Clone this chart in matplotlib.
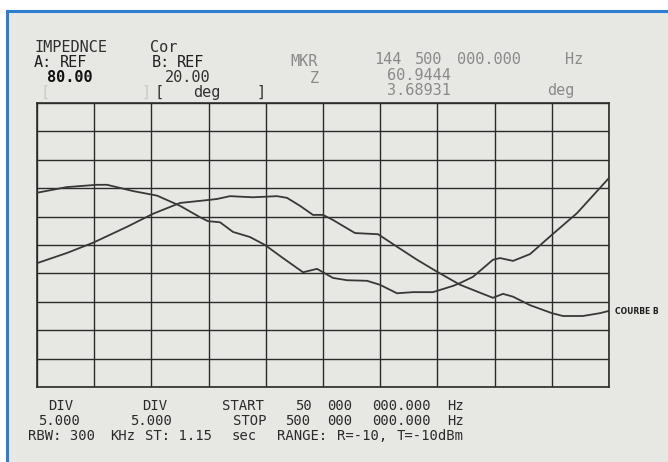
import matplotlib.pyplot as plt
import matplotlib.patches as mpatches
import numpy as np

plt.close("all")

W, H = 668, 462

# sweep: 50 MHz .. 500 MHz, 10 divisions
f_start, f_stop = 50.0, 500.0
ref_a, ref_b, div = 80.0, 20.0, 5.0   # A: ohm, B: deg, 5 per div

# trace A (impedance magnitude, ohm)
freq_a = [50.0, 73.6, 94.1, 120.8, 141.3, 162.5, 183.7, 191.6, 201.8, 219.9,
          238.8, 246.7, 256.9, 267.1, 275.0, 282.9, 300.2, 318.3, 333.2, 349.0,
          364.7, 382.8, 398.5, 408.7, 416.6, 424.5, 437.9, 455.1, 463.8, 479.5,
          492.9, 500.0]
z_ohm = [51.8, 53.6, 55.4, 58.2, 60.5, 62.4, 62.9, 63.1, 63.6, 63.4,
         63.6, 63.3, 61.9, 60.3, 60.3, 59.4, 57.1, 56.9, 54.7, 52.4,
         50.3, 48.0, 46.6, 45.7, 46.4, 45.9, 44.4, 43.0, 42.5, 42.5,
         43.0, 43.4]

# trace B (phase, deg)
freq_b = [50.0, 73.6, 97.2, 105.1, 125.5, 144.5, 162.5, 178.2, 184.5, 194.0,
          204.2, 217.6, 229.4, 243.5, 259.3, 270.3, 282.9, 293.9, 309.6, 319.8,
          333.2, 345.8, 361.5, 377.3, 382.8, 393.0, 408.7, 414.3, 424.5, 437.9,
          455.1, 474.8, 500.0]
phase_deg = [4.2, 5.2, 5.6, 5.6, 4.5, 3.69, 1.9, -0.1, -0.8, -1.0,
             -2.7, -3.6, -5.0, -7.3, -9.8, -9.2, -10.8, -11.2, -11.3, -12.0,
             -13.5, -13.3, -13.3, -12.2, -11.7, -10.6, -7.6, -7.3, -7.8, -6.6,
             -3.2, 0.6, 6.8]

mkr_z = "60.9444"
mkr_phase = "3.68931"

bg = "#e7e7e4"
ink = "#2b2b2b"
mono = "DejaVu Sans Mono"

fig = plt.figure(figsize=(W / 100, H / 100), dpi=100, facecolor=bg)

# white margin and blue frame around the screen
fig.patches.append(mpatches.Rectangle((0, 1 - 10 / H), 1, 10 / H, transform=fig.transFigure,
                                      facecolor="white", edgecolor="none", zorder=0))
fig.patches.append(mpatches.Rectangle((0, 0), 7 / W, 1, transform=fig.transFigure,
                                      facecolor="white", edgecolor="none", zorder=0))
fig.add_artist(plt.Line2D([7 / W, 1], [1 - 11 / H, 1 - 11 / H], transform=fig.transFigure,
                          color="#2f7dd3", lw=2.2))
fig.add_artist(plt.Line2D([7 / W, 7 / W], [0, 1 - 11 / H], transform=fig.transFigure,
                          color="#2f7dd3", lw=2.2))

ax = fig.add_axes([37 / W, 75 / H, 572 / W, 284 / H])
ax.set_facecolor(bg)
ax.set_xlim(f_start, f_stop)
ax.set_ylim(ref_a - 10 * div, ref_a)
ax.set_xticks(np.linspace(f_start, f_stop, 11))
ax.set_yticks(np.arange(ref_a - 10 * div, ref_a + 0.1, div))
ax.grid(True, color=ink, lw=1.0)
ax.tick_params(length=0, labelbottom=False, labelleft=False)
for s in ax.spines.values():
    s.set_color(ink)
    s.set_linewidth(1.2)

ax2 = ax.twinx()
ax2.set_ylim(ref_b - 10 * div, ref_b)
ax2.set_yticks([])
for s in ax2.spines.values():
    s.set_visible(False)

ax.plot(freq_a, z_ohm, color="#383838", lw=1.3)
ax2.plot(freq_b, phase_deg, color="#383838", lw=1.3)


def row(y, items, size=11, color=ink, **kw):
    # one line of screen text, words placed at their columns (pixels)
    for x, s in items:
        fig.text(x / W, 1 - y / H, s, fontsize=size, color=color, family=mono,
                 va="baseline", ha="left", **kw)


# header block
row(52, [(35, "IMPEDNCE"), (150, "Cor")], color="#303030")
row(67, [(34, "A:"), (60, "REF"), (152, "B:"), (177, "REF")], color="#202020")
row(82.5, [(47, f"{ref_a:.2f}")], color="#111111", fontweight="bold")
row(82.5, [(165, f"{ref_b:.2f}")], color="#303030")
row(97, [(40, "["), (141, "]")], color="#c9c9c6")
row(97, [(155, "["), (193, "deg"), (256, "]")], color="#303030")

light = "#8a8a8a"
row(66, [(290, "MKR")], color=light)
row(64, [(374, "144"), (415, "500"), (457, "000.000"), (565, "Hz")], color=light)
row(83, [(310, "Z")], color=light)
row(79.5, [(387, mkr_z)], color=light)
row(95, [(387, mkr_phase), (547, "deg")], color=light)

# footer block
fs = 10
row(410, [(48, "DIV"), (142, "DIV"), (222, "START"), (295, "50"), (327, "000"),
          (372, "000.000"), (447, "Hz")], size=fs)
row(425, [(38, f"{div:.3f}"), (130, f"{div:.3f}"), (233, "STOP"), (285, "500"),
          (327, "000"), (372, "000.000"), (447, "Hz")], size=fs)
row(440, [(28, "RBW: 300"), (110, "KHz"), (145, "ST: 1.15"), (232, "sec"),
          (277, "RANGE:"), (337, "R=-10,"), (397, "T=-10dBm")], size=fs)

fig.text(615 / W, 1 - 311 / H, "COURBE B", fontsize=5.5, fontweight="bold",
         color="#1e1e1e", va="center", ha="left")

fig.savefig("out.png", dpi=100, facecolor=bg)
